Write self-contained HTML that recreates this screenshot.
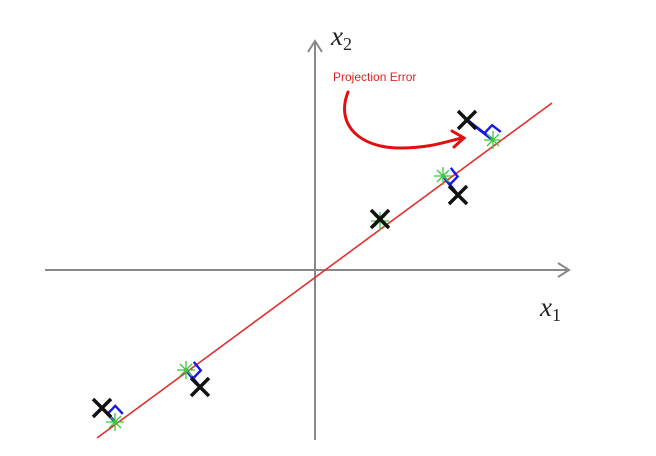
<!DOCTYPE html>
<html><head><meta charset="utf-8"><style>
html,body{margin:0;padding:0;background:#fff;}
svg{display:block;}
</style></head><body>
<svg id="chart" width="656" height="456" viewBox="0 0 656 456" xmlns="http://www.w3.org/2000/svg">
<rect width="656" height="456" fill="#fff"/>
<g>
<line x1="45" y1="270" x2="568" y2="270" stroke="#888" stroke-width="2"/>
<polyline points="558,263 569,270 558,277" fill="none" stroke="#888" stroke-width="2"/>
</g>
<g>
<line x1="315" y1="440" x2="315" y2="42" stroke="#888" stroke-width="2"/>
<polyline points="308,52 315,41 322,52" fill="none" stroke="#888" stroke-width="2"/>
</g>
<text x="331" y="45" font-family="Liberation Serif, serif" font-style="italic" font-size="27" fill="#222">x<tspan font-size="18" dy="5" font-style="normal">2</tspan></text>
<text x="540" y="316" font-family="Liberation Serif, serif" font-style="italic" font-size="27" fill="#222">x<tspan font-size="18" dy="5" font-style="normal">1</tspan></text>
<text x="333" y="81" font-family="Liberation Sans, sans-serif" font-size="12" fill="#e02020">Projection Error</text>
<g>
<path d="M348,92 C335,125 360,148 400,148 C430,148 445,142 462,138" fill="none" stroke="#e01010" stroke-width="3" stroke-linecap="round"/>
<polyline points="452,131 464,138 454,147" fill="none" stroke="#e01010" stroke-width="3" stroke-linecap="round"/>
</g>
<g id="marks"></g>
</svg>
<script>
const pointX = [-2.13, -1.15, 0.65, 1.43, 1.52];
const pointY = [-1.38, -1.17, 0.51, 0.75, 1.50];
const projX = [-2.00, -1.29, 0.65, 1.28, 1.78];
const projY = [-1.52, -1.00, 0.49, 0.94, 1.30];
const lineX = [-2.18, 2.37];
const lineY = [-1.68, 1.67];
const ox = 315, oy = 270, s = 100;
function sx(v){return ox + v*s;}
function sy(v){return oy - v*s;}
const NS = "http://www.w3.org/2000/svg";
const g = document.getElementById('marks');
function mk(tag, attrs){const e=document.createElementNS(NS,tag);for(const k in attrs)e.setAttribute(k,attrs[k]);g.appendChild(e);return e;}
const fit = mk('line',{x1:sx(lineX[0]),y1:sy(lineY[0]),x2:sx(lineX[1]),y2:sy(lineY[1]),stroke:'#e03030','stroke-width':1.6});


for(let i=0;i<pointX.length;i++){
  const px=sx(pointX[i]), py=sy(pointY[i]), qx=sx(projX[i]), qy=sy(projY[i]);
  const e = mk('line',{x1:px,y1:py,x2:qx,y2:qy,stroke:'#1a1adc','stroke-width':3});
  
  
  const dx=qx-px, dy=qy-py, L=Math.hypot(dx,dy)||1;
  if(L>15){
    const ux=dx/L, uy=dy/L, lx=0.7071, ly=-0.7364;
    const a=11, bx=qx-ux*a, by=qy-uy*a;
    const sq = mk('polyline',{points:`${bx},${by} ${bx+lx*a},${by+ly*a} ${qx+lx*a},${qy+ly*a}`,fill:'none',stroke:'#1a1adc','stroke-width':2.4});
    
    
  }
  const p = mk('path',{d:`M${qx-9},${qy} L${qx+9},${qy} M${qx},${qy-9} L${qx},${qy+9} M${qx-6},${qy-6} L${qx+6},${qy+6} M${qx-6},${qy+6} L${qx+6},${qy-6}`,stroke:'#3cc83c','stroke-width':1.3});
  
  
  const x = mk('path',{d:`M${px-9},${py-9} L${px+9},${py+9} M${px-9},${py+9} L${px+9},${py-9}`,stroke:'#111','stroke-width':3.5});
  
  
}
</script>
</body></html>
